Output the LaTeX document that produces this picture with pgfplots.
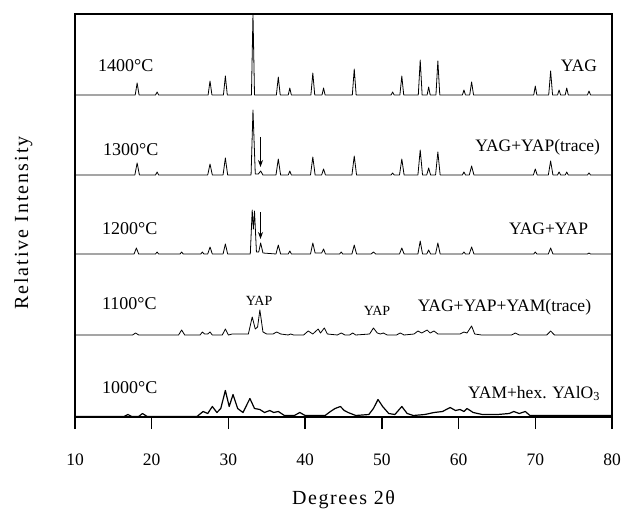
\documentclass[border=0pt]{standalone}
\usepackage{fontspec}
\setmainfont{Liberation Serif}
\usepackage{pgfplots}
\pgfplotsset{compat=1.18}
\usepackage{pgfplotstable}
\usetikzlibrary{arrows.meta}

\pgfplotstableread{
x y
10 0
17.85 0
18.1 12
18.35 0
20.5 0
20.7 3
20.9 0
27.35 0
27.6 14
27.85 0
29.35 0
29.6 19
29.85 0
33.0 0
33.2 81
33.4 0
36.25 0
36.5 18
36.75 0
37.8 0
38.0 7
38.2 0
40.75 0
41.0 22
41.25 0
42.2 0
42.4 7
42.6 0
46.15 0
46.4 26
46.65 0
51.2 0
51.4 3
51.6 0
52.35 0
52.6 19
52.85 0
54.75 0
55.0 35
55.25 0
55.9 0
56.1 8
56.3 0
57.05 0
57.3 34
57.55 0
60.5 0
60.7 5
60.9 0
61.45 0
61.7 13
61.95 0
69.8 0
70.0 9
70.2 0
71.75 0
72.0 24
72.25 0
72.9 0
73.1 5
73.3 0
73.9 0
74.1 7
74.3 0
76.8 0
77.0 4
77.2 0
80 0
}\tA

\pgfplotstableread{
x y
10 0
17.8 0
18.1 12
18.4 0
20.5 0
20.7 3
20.9 0
27.3 0
27.6 11
27.9 0
29.3 0
29.6 17
29.9 0
32.95 0
33.2 65
33.5 1
33.9 1
34.2 4
34.5 0
36.2 0
36.5 16
36.8 0
37.8 0
38.0 4
38.2 0
40.7 0
41.0 18
41.3 0
42.15 0
42.4 6
42.65 0
46.1 0
46.4 19
46.7 0
51.2 0
51.4 2
51.6 0
52.3 0
52.6 16
52.9 0
54.7 0
55.0 25
55.3 0
55.85 0
56.1 7
56.35 0
57.0 0
57.3 23
57.6 0
60.5 0
60.7 3
60.9 0
61.4 0
61.7 9
62.0 0
69.75 0
70.0 6
70.25 0
71.7 0
72.0 14
72.3 0
72.9 0
73.1 3
73.3 0
73.9 0
74.1 3
74.3 0
76.8 0
77.0 2
77.2 0
80 0
}\tB

\pgfplotstableread{
x y
10 0
17.7 0
18.0 6
18.3 0
20.5 0
20.7 2
20.9 0
23.7 0
23.9 2
24.1 0
26.4 0
26.6 2
26.8 0
27.3 0
27.6 7
27.9 0
29.3 0
29.6 10
29.9 0
32.85 0
33.1 44
33.25 25
33.4 43
33.65 2
33.95 2
34.2 11
34.5 1
36.2 0
36.5 9
36.8 0
37.8 0
38.0 3
38.2 0
40.7 0
41.0 11
41.3 1
42.15 1
42.4 5
42.65 0
44.5 0
44.7 2
44.9 0
46.1 0
46.4 9
46.7 0
48.6 0
48.9 2
49.2 0
52.3 0
52.6 6
52.9 0
54.7 0
55.0 13
55.3 0
55.85 0
56.1 4
56.35 0
57.0 0
57.3 11
57.6 0
60.5 0
60.7 2
60.9 0
61.4 0
61.7 7
62.0 0
69.8 0
70.0 2
70.2 0
71.7 0
72.0 6
72.3 0
76.8 0
77.0 1
77.2 0
80 0
}\tC

\pgfplotstableread{
x y
10 0
17.5 0
17.9 2
18.3 0
23.5 0
23.9 5
24.3 0
26.3 0
26.6 3
26.9 1
27.3 1
27.6 3
27.9 0
29.2 0
29.6 6
30.0 0
30.5 1
32.6 1
33.1 18
33.5 6
33.8 8
34.1 25
34.5 3
35.0 1
35.8 1
36.3 3
36.8 1
37.8 0
38.1 1
38.5 0
39.8 0
40.4 4
41.0 1
41.7 6
42.0 2
42.5 7
42.9 1
44.2 0
44.7 2
45.2 0
45.8 0
46.2 2
46.6 0
48.4 1
48.9 7
49.4 2
49.8 1
50.2 2
50.7 0
51.9 0
52.4 2
52.9 0
54.2 1
54.7 4
55.2 2
55.9 5
56.3 2
56.8 4
57.3 1
60.2 1
60.7 3
61.1 2
61.7 9
62.1 1
63 0
66.9 0
67.4 2
67.9 0
71.5 0
72.0 4
72.5 0
80 0
}\tD

\pgfplotstableread{
x y
10 0
16.4 0
16.9 2
17.4 0
18.3 0
18.8 3
19.4 0
25.9 0
26.7 5
27.3 3
27.9 10
28.5 4
29.0 8
29.6 26
30.1 10
30.6 22
31.2 8
31.9 4
32.8 18
33.4 8
34.1 7
34.7 4
35.4 6
35.9 4
36.5 5
37.3 1
38.6 1
39.3 4
40.0 1
42.6 1
43.3 5
43.9 8
44.6 10
45.1 6
45.6 4
46.6 1
48.3 2
48.9 8
49.5 17
50.1 10
50.9 3
51.7 2
52.6 10
53.3 3
54.1 1
55.6 2
56.8 4
57.9 5
58.9 9
59.6 6
60.2 7
60.7 5
61.1 8
61.9 4
63.1 2
65.1 2
66.6 3
67.2 5
67.9 3
68.7 5
69.3 1
80 1
}\tE

\begin{document}
\begin{tikzpicture}
\begin{axis}[
  width=537pt, height=403pt, scale only axis,
  xmin=10, xmax=80, ymin=0, ymax=403,
  xtick={10,20,...,80}, ytick=\empty,
  xtick pos=bottom, tick align=outside, major tick length=12pt,
  xtick style={draw=black, line width=1.3pt},
  axis line style={line width=1.3pt},
  xticklabel style={font=\fontsize{17.5}{17.5}\selectfont, yshift=-21pt},
  /pgf/number format/assume math mode=true,
  xlabel={\addfontfeatures{LetterSpace=8}Degrees 2θ},
  xlabel style={font=\fontsize{20}{20}\selectfont, at={(axis description cs:0.5,-0.218)}, anchor=base},
  ylabel={\addfontfeatures{LetterSpace=10}Relative Intensity},
  ylabel style={font=\fontsize{20}{20}\selectfont, at={(axis description cs:-0.096,0.481)}, anchor=center},
]
\addplot[black, no markers, line width=0.8pt, line join=round] table[x=x, y expr=\thisrow{y}+322] {\tA};
\addplot[black, no markers, line width=0.8pt, line join=round] table[x=x, y expr=\thisrow{y}+242] {\tB};
\addplot[black, no markers, line width=0.8pt, line join=round] table[x=x, y expr=\thisrow{y}+163] {\tC};
\addplot[black, no markers, line width=0.8pt, line join=round] table[x=x, y expr=\thisrow{y}+82] {\tD};
\addplot[black, no markers, line width=1.2pt, line join=round] table[x=x, y expr=\thisrow{y}+0.5] {\tE};

\draw[-{Stealth[length=7pt,width=5pt]}, line width=0.8pt] (axis cs:34.18,280) -- (axis cs:34.18,250);
\draw[-{Stealth[length=7pt,width=5pt]}, line width=0.8pt] (axis cs:34.18,205) -- (axis cs:34.18,178);

\begin{scope}[every node/.style={font=\fontsize{18}{18}\selectfont, inner sep=0pt}]
\node[anchor=base west] at (axis cs:13.0,345) {1400°C};
\node[anchor=base west] at (axis cs:13.65,261) {1300°C};
\node[anchor=base west] at (axis cs:13.5,182) {1200°C};
\node[anchor=base west] at (axis cs:13.5,107) {1100°C};
\node[anchor=base west] at (axis cs:13.5,24) {1000°C};
\end{scope}
\begin{scope}[every node/.style={font=\fontsize{17.5}{17.5}\selectfont, inner sep=0pt}]
\node[anchor=base east] at (axis cs:78.06,345) {YAG};
\node[anchor=base east] at (axis cs:78.45,265) {YAG+YAP(trace)};
\node[anchor=base east] at (axis cs:76.9,182) {YAG+YAP};
\node[anchor=base east] at (axis cs:77.3,106) {YAG+YAP+YAM(trace)};
\node[anchor=base east] at (axis cs:78.45,19) {YAM+hex. YAlO\textsubscript{3}};
\end{scope}
\begin{scope}[every node/.style={font=\fontsize{14}{14}\selectfont, inner sep=0pt}]
\node[anchor=base] at (axis cs:49.37,102) {YAP};
\node[anchor=base] at (axis cs:34.0,111) {YAP};
\end{scope}
\end{axis}
\pgfresetboundingbox
\path[use as bounding box] ([shift={(-75pt,-93pt)}]current axis.south west) rectangle ([shift={(12pt,14pt)}]current axis.north east);
\end{tikzpicture}
\end{document}
